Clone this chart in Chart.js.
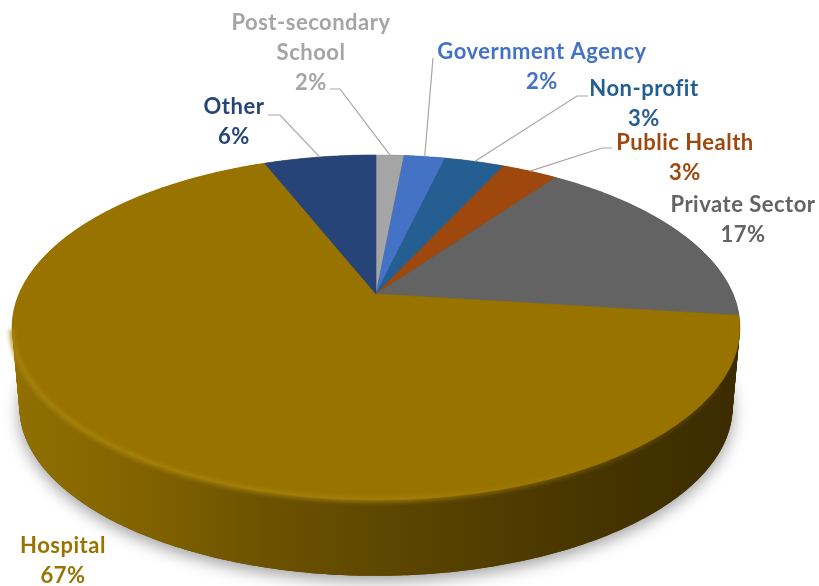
<!DOCTYPE html>
<html>
<head>
<meta charset="utf-8">
<title>Pie</title>
<script src="https://cdn.jsdelivr.net/npm/chart.js@4"></script>
<style>
  html, body { margin: 0; padding: 0; background: #fff; }
  canvas { display: block; filter: blur(0.45px); }
</style>
</head>
<body>
<canvas id="pie" width="819" height="586"></canvas>
<script>
// values, clockwise from 12 o'clock
const categories = ['Post-secondary School', 'Government Agency', 'Non-profit', 'Public Health', 'Private Sector', 'Hospital', 'Other'];
const shares = [1.5, 2.2, 3.2, 3.0, 17.1, 67.0, 6.0];
const sliceColors = ['#a5a5a5', '#4472c4', '#255e91', '#9e480e', '#636363', '#997300', '#264478'];

// label text lines, anchor (centre x, baseline y of first line)
const labelLines = [['Post-secondary', 'School'], ['Government Agency'], ['Non-profit'], ['Public Health'], ['Private Sector'], ['Hospital'], ['Other']];
const labelAnchors = [[311, 30], [542, 59], [644, 96], [685, 150], [743, 212], [63, 553], [234, 114]];
// leader line start + elbow, null where there is no line
const leaderElbows = [
    [[330, 89], [340, 89]],
    [[433, 58], [433, 58]],
    [[588, 96], [577, 96]],
    [[612, 148], [602, 148]],
    null, null,
    [[268, 115], [280, 115]]
];

// perspective of the disc: apex, half axes, foreshortening
const cx = 376, cy = 294, rx = 357, ry = 166, persp = 0.194;
const depthY = 80, depthScale = 0.98;

function project(theta, r = 1) {
    const u = Math.sin(theta) * r, v = Math.cos(theta) * r;
    const s = 1 / (1 + persp * v);
    return [cx + rx * u * s, cy - ry * v * s];
}

function tracePoints(ctx, pts) {
    ctx.beginPath();
    pts.forEach((p, i) => i ? ctx.lineTo(p[0], p[1]) : ctx.moveTo(p[0], p[1]));
}

function rimPoints(a0, a1) {
    const pts = [];
    const n = Math.max(2, Math.ceil((a1 - a0) / 0.01));
    for (let i = 0; i <= n; i++) pts.push(project(a0 + (a1 - a0) * i / n + Math.PI / 2));
    return pts;
}

const tiltedPie = {
    id: 'tiltedPie',
    beforeDatasetDraw(chart) {
        const ctx = chart.ctx;
        const arcs = chart.getDatasetMeta(0).data;
        const full = rimPoints(0, Math.PI * 2);
        const shifted = t => full.map(p => [
            cx + (p[0] - cx) * (1 - t * (1 - depthScale)),
            cy + (p[1] - cy) * (1 - t * (1 - depthScale)) + depthY * t
        ]);

        // soft shadow under the disc
        ctx.save();
        ctx.shadowColor = 'rgba(0,0,0,0.38)';
        ctx.shadowBlur = 16;
        ctx.shadowOffsetY = 5;
        ctx.fillStyle = '#5a4300';
        tracePoints(ctx, shifted(1));
        ctx.closePath();
        ctx.fill();
        ctx.restore();

        // side wall
        const wall = ctx.createLinearGradient(12, 0, 740, 0);
        wall.addColorStop(0, '#917000');
        wall.addColorStop(0.2, '#7f6100');
        wall.addColorStop(0.35, '#6c5200');
        wall.addColorStop(0.55, '#5a4400');
        wall.addColorStop(0.78, '#483600');
        wall.addColorStop(1, '#3a2c00');
        ctx.fillStyle = wall;
        for (let i = 40; i >= 0; i--) {
            tracePoints(ctx, shifted(i / 40));
            ctx.closePath();
            ctx.fill();
        }

        // top face
        arcs.forEach((arc, i) => {
            const pts = [[cx, cy]].concat(rimPoints(arc.startAngle, arc.endAngle));
            tracePoints(ctx, pts);
            ctx.closePath();
            ctx.fillStyle = sliceColors[i];
            ctx.strokeStyle = sliceColors[i];
            ctx.lineWidth = 0.6;
            ctx.fill();
            ctx.stroke();
        });

        // bevel highlight along the front rim of the big slice
        const big = arcs[shares.indexOf(Math.max(...shares))];
        const glow = ctx.createLinearGradient(12, 0, 740, 0);
        glow.addColorStop(0, 'rgba(170,134,14,0.85)');
        glow.addColorStop(0.55, 'rgba(170,134,14,0.7)');
        glow.addColorStop(1, 'rgba(150,115,0,0.15)');
        ctx.save();
        ctx.filter = 'blur(2px)';
        ctx.strokeStyle = glow;
        ctx.lineWidth = 5;
        tracePoints(ctx, rimPoints(big.startAngle + 0.4, big.endAngle - 1.4));
        ctx.stroke();
        ctx.restore();

        return false;
    },
    afterDatasetsDraw(chart) {
        const ctx = chart.ctx;
        const arcs = chart.getDatasetMeta(0).data;

        // leader lines, ending on the rim at the middle of each slice
        ctx.strokeStyle = '#a6a6a6';
        ctx.lineWidth = 1.2;
        arcs.forEach((arc, i) => {
            if (!leaderElbows[i]) return;
            const end = project((arc.startAngle + arc.endAngle) / 2 + Math.PI / 2);
            tracePoints(ctx, leaderElbows[i].concat([end]));
            ctx.stroke();
        });

        // labels
        ctx.font = 'bold 22px Lato, sans-serif';
        ctx.letterSpacing = '0.5px';
        ctx.textAlign = 'center';
        ctx.textBaseline = 'alphabetic';
        categories.forEach((name, i) => {
            const lines = labelLines[i].concat([Math.round(shares[i]) + '%']);
            ctx.fillStyle = sliceColors[i];
            lines.forEach((line, j) => ctx.fillText(line, labelAnchors[i][0], labelAnchors[i][1] + j * 30));
        });
    }
};

new Chart(document.getElementById('pie'), {
    type: 'pie',
    data: {
        labels: categories,
        datasets: [{ data: shares, backgroundColor: sliceColors, borderWidth: 0 }]
    },
    options: {
        responsive: false,
        animation: false,
        plugins: { legend: { display: false }, tooltip: { enabled: false } }
    },
    plugins: [tiltedPie]
});
</script>
</body>
</html>
